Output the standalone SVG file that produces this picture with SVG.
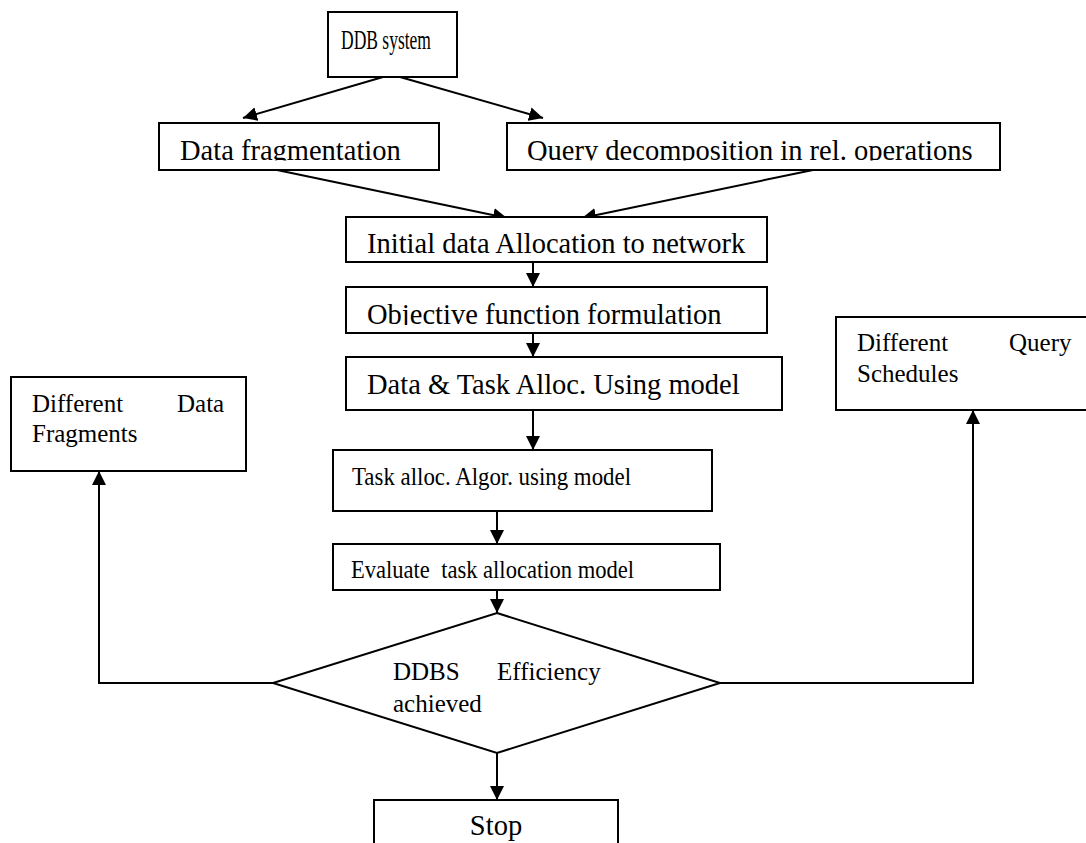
<svg xmlns="http://www.w3.org/2000/svg" width="1086" height="843" viewBox="0 0 1086 843">
  <style>
    .box { fill: #ffffff; stroke: #000000; stroke-width: 2; }
    .lbl { font-family: "Liberation Serif", "Times New Roman", serif; fill: #000000; }
    .big { font-size: 28.5px; }
    .mid { font-size: 25px; }
    .conn { fill: none; stroke: #000000; stroke-width: 2; }
  </style>
  <defs>
    <marker id="arrow" markerUnits="userSpaceOnUse" markerWidth="14" markerHeight="14" refX="14" refY="7" orient="auto">
      <path d="M0,0 L14,7 L0,14 z" fill="#000000"/>
    </marker>
    <clipPath id="clipFrag"><rect x="159" y="123" width="280" height="37.5"/></clipPath>
    <clipPath id="clipQuery"><rect x="507" y="123" width="493" height="37.5"/></clipPath>
    <clipPath id="clipObj"><rect x="346" y="287" width="421" height="38"/></clipPath>
  </defs>
  <rect width="1086" height="843" fill="#ffffff"/>

  <!-- connectors -->
  <g id="connectors">
    <path class="conn" d="M383,77 L243,118" marker-end="url(#arrow)"/>
    <path class="conn" d="M400,77 L543,118" marker-end="url(#arrow)"/>
    <path class="conn" d="M277,170 L507,218" marker-end="url(#arrow)"/>
    <path class="conn" d="M813,170 L582,218" marker-end="url(#arrow)"/>
    <path class="conn" d="M533,262 L533,287" marker-end="url(#arrow)"/>
    <path class="conn" d="M533,333 L533,357" marker-end="url(#arrow)"/>
    <path class="conn" d="M533,410 L533,450" marker-end="url(#arrow)"/>
    <path class="conn" d="M497,511 L497,544" marker-end="url(#arrow)"/>
    <path class="conn" d="M497,590 L497,613" marker-end="url(#arrow)"/>
    <path class="conn" d="M497,753 L497,800" marker-end="url(#arrow)"/>
    <path class="conn" d="M273,683 L99,683 L99,471" marker-end="url(#arrow)"/>
    <path class="conn" d="M720,683 L973,683 L973,410" marker-end="url(#arrow)"/>
  </g>

  <g id="ddb-system">
    <rect class="box" x="328" y="12" width="129" height="65"/>
    <text class="lbl" x="341" y="49" font-size="27" textLength="90" lengthAdjust="spacingAndGlyphs">DDB system</text>
  </g>

  <g id="data-fragmentation">
    <rect class="box" x="159" y="123" width="280" height="47"/>
    <text class="lbl big" x="180" y="160" clip-path="url(#clipFrag)">Data fragmentation</text>
  </g>

  <g id="query-decomposition">
    <rect class="box" x="507" y="123" width="493" height="47"/>
    <text class="lbl big" x="527" y="160" clip-path="url(#clipQuery)">Query decomposition in rel. operations</text>
  </g>

  <g id="initial-allocation">
    <rect class="box" x="346" y="217" width="421" height="45"/>
    <text class="lbl big" x="367" y="253">Initial data Allocation to network</text>
  </g>

  <g id="objective-function">
    <rect class="box" x="346" y="287" width="421" height="46"/>
    <text class="lbl big" x="367" y="324" clip-path="url(#clipObj)">Objective function formulation</text>
  </g>

  <g id="data-task-alloc">
    <rect class="box" x="346" y="357" width="436" height="53"/>
    <text class="lbl big" x="367" y="394">Data &amp; Task Alloc. Using model</text>
  </g>

  <g id="task-alloc-algor">
    <rect class="box" x="333" y="450" width="379" height="61"/>
    <text class="lbl mid" x="352" y="485" textLength="279" lengthAdjust="spacingAndGlyphs">Task alloc. Algor. using model</text>
  </g>

  <g id="evaluate-model">
    <rect class="box" x="333" y="544" width="387" height="46"/>
    <text class="lbl mid" x="351" y="578" textLength="283" lengthAdjust="spacingAndGlyphs" xml:space="preserve">Evaluate  task allocation model</text>
  </g>

  <g id="efficiency-decision">
    <polygon class="box" points="497,613 720,683 497,753 273,683"/>
    <text class="lbl mid" x="393" y="680">DDBS</text>
    <text class="lbl mid" x="497" y="680">Efficiency</text>
    <text class="lbl mid" x="393" y="712">achieved</text>
  </g>

  <g id="different-data-fragments">
    <rect class="box" x="11" y="377" width="235" height="94"/>
    <text class="lbl mid" x="32" y="412">Different</text>
    <text class="lbl mid" x="177" y="412">Data</text>
    <text class="lbl mid" x="32" y="442">Fragments</text>
  </g>

  <g id="different-query-schedules">
    <rect class="box" x="836" y="317" width="260" height="93"/>
    <text class="lbl mid" x="857" y="351">Different</text>
    <text class="lbl mid" x="1009" y="351">Query</text>
    <text class="lbl mid" x="857" y="382">Schedules</text>
  </g>

  <g id="stop">
    <rect class="box" x="374" y="800" width="244" height="60"/>
    <text class="lbl big" x="496" y="835" text-anchor="middle">Stop</text>
  </g>
</svg>
